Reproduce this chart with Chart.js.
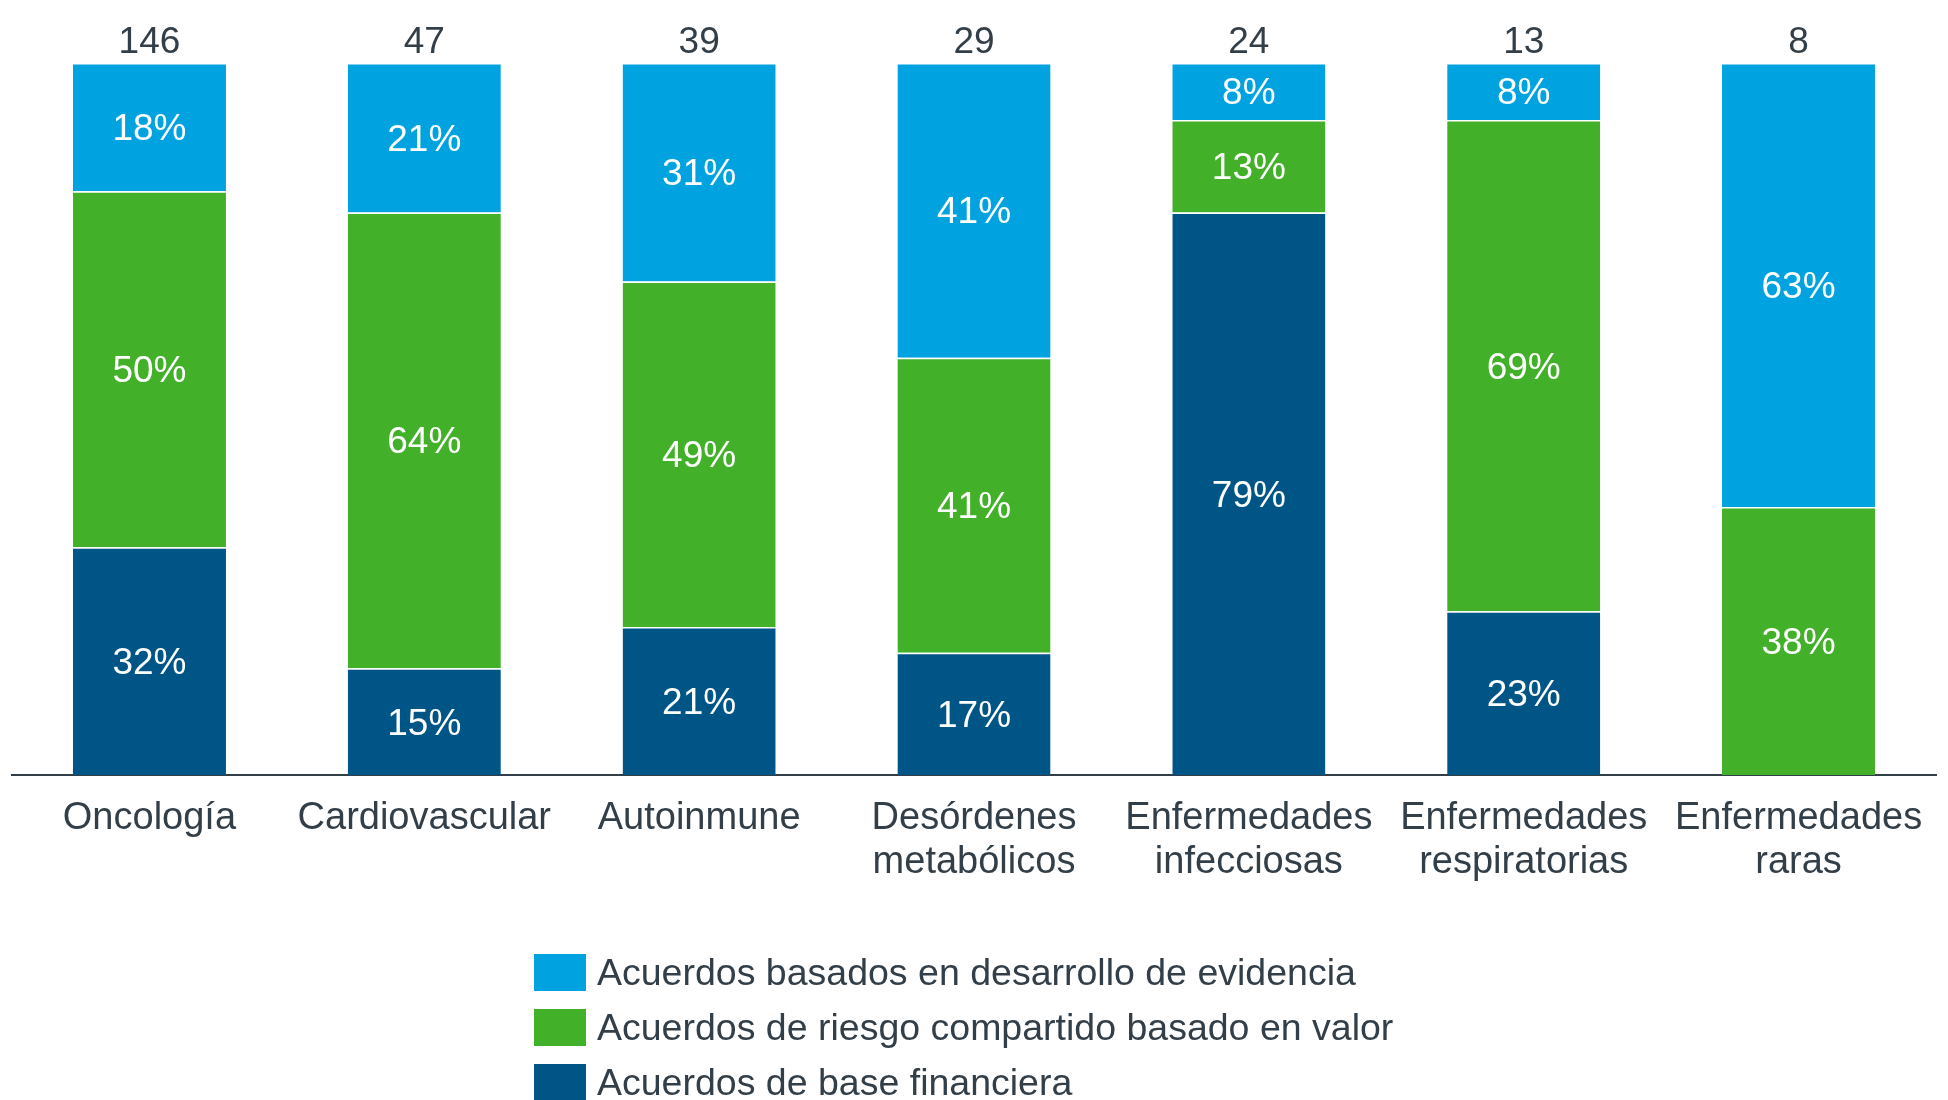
<!DOCTYPE html>
<html>
<head>
<meta charset="utf-8">
<script src="https://cdn.jsdelivr.net/npm/chart.js@4/dist/chart.umd.min.js"></script>
<style>
  html,body{margin:0;padding:0;background:#fff;}
  #wrap{position:relative;width:1948px;height:1100px;overflow:hidden;}
  #legend{position:absolute;left:534px;top:945px;margin:0;padding:0;list-style:none;
    font-family:"Liberation Sans",Arial,sans-serif;font-size:37.5px;color:#333F48;}
  #legend li{display:flex;align-items:center;height:55px;}
  #legend span.box{display:inline-block;width:52px;height:37px;margin-right:11px;}
</style>
</head>
<body>
<div id="wrap">
  <canvas id="chart"></canvas>
  <ul id="legend"></ul>
</div>
<script>
(function(){
  'use strict';
  const FONT = '"Liberation Sans", Arial, sans-serif';
  const TEXT = '#333F48';

  // Data
  const categories = [
    'Oncología', 'Cardiovascular', 'Autoinmune', ['Desórdenes','metabólicos'],
    ['Enfermedades','infecciosas'], ['Enfermedades','respiratorias'], ['Enfermedades','raras']
  ];
  const totals      = [146, 47, 39, 29, 24, 13, 8];
  const financiera  = [32, 15, 21, 17, 79, 23, 0];
  const riesgo      = [50, 64, 49, 41, 13, 69, 38];
  const evidencia   = [18, 21, 31, 41, 8, 8, 63];

  const seriesNames = [
    'Acuerdos de base financiera',
    'Acuerdos de riesgo compartido basado en valor',
    'Acuerdos basados en desarrollo de evidencia'
  ];
  const colors = ['#005587', '#43B02A', '#00A3E0'];
  const raw = [financiera, riesgo, evidencia];

  // each stack scaled to 100 (rounded percents don't always add up)
  const sums = categories.map((_, i) => raw.reduce((a, s) => a + s[i], 0));
  const norm = s => s.map((v, i) => v / sums[i] * 100);

  const segLabels = {
    id: 'segLabels',
    afterDatasetsDraw(chart){
      const {ctx} = chart;
      ctx.save();
      ctx.font = '37px ' + FONT;
      ctx.fillStyle = '#fff';
      ctx.textAlign = 'center';
      ctx.textBaseline = 'alphabetic';
      chart.data.datasets.forEach((ds, di) => {
        chart.getDatasetMeta(di).data.forEach((el, i) => {
          const v = ds.rawValues[i];
          if(!v) return;
          const cy = (el.y + el.base) / 2;
          ctx.fillText(v + '%', el.x, cy + 13);
        });
      });
      // totals above each stack
      const y = chart.scales.y.getPixelForValue(100);
      ctx.fillStyle = TEXT;
      totals.forEach((t, i) => {
        ctx.fillText(String(t), chart.scales.x.getPixelForValue(i), y - 10);
      });
      ctx.restore();
    }
  };

  const chart = new Chart(document.getElementById('chart'), {
    type: 'bar',
    data: {
      labels: categories,
      datasets: raw.map((s, i) => ({
        label: seriesNames[i],
        data: norm(s),
        rawValues: s,
        backgroundColor: colors[i],
        borderColor: '#ffffff',
        borderWidth: {top: 1.5, bottom: 0, left: 0, right: 0},
        borderSkipped: false,
        categoryPercentage: 1,
        barPercentage: 0.557
      }))
    },
    options: {
      responsive: true,
      maintainAspectRatio: false,
      animation: false,
      layout: {padding: {top: 63, left: 12, right: 12, bottom: 0}},
      plugins: {legend: {display: false}, tooltip: {enabled: false}},
      scales: {
        x: {
          stacked: true,
          grid: {display: false},
          border: {display: true, color: TEXT, width: 2},
          ticks: {
            color: TEXT, padding: 14, maxRotation: 0, autoSkip: false,
            font: {family: FONT, size: 38, lineHeight: 1.145}
          },
          afterFit(s){ s.height = 325; }
        },
        y: {stacked: true, display: false, min: 0, max: 100}
      }
    },
    plugins: [segLabels]
  });

  // legend, top to bottom as in the stack
  const ul = document.getElementById('legend');
  chart.data.datasets.slice().reverse().forEach(ds => {
    const li = document.createElement('li');
    li.innerHTML = `<span class="box" style="background:${ds.backgroundColor}"></span>${ds.label}`;
    ul.appendChild(li);
  });
})();
</script>
</body>
</html>
